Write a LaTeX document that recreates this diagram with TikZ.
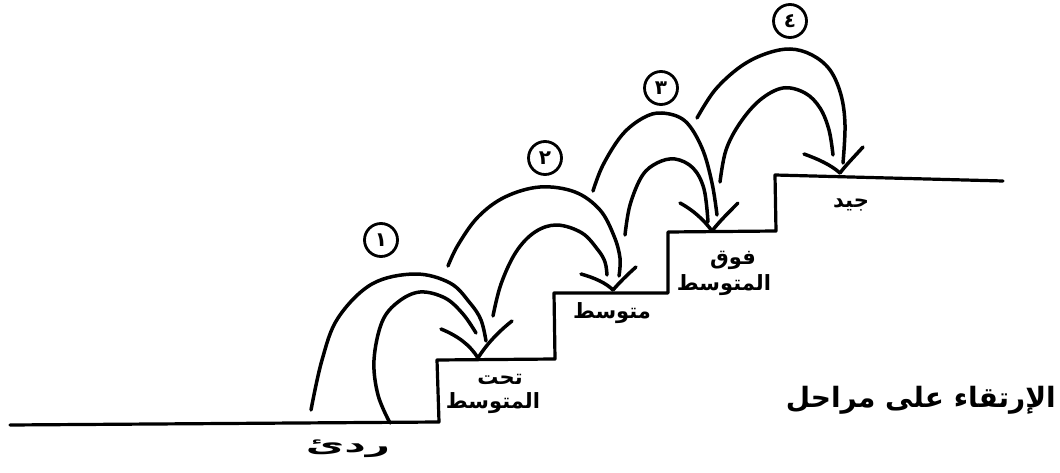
\documentclass[tikz,border=0pt]{standalone}
\usepackage{fontspec}
\newfontfamily\arabicfont[Script=Arabic]{DejaVu Sans}
\TeXXeTstate=1
\begin{document}
\begin{tikzpicture}[x=1pt,y=-1pt,line cap=round,line join=round,
  stair/.style={line width=3.2pt},
  jump/.style={line width=3.5pt},
  tipline/.style={line width=3.5pt},
  num/.style={circle,draw,line width=2.8pt,minimum size=33pt,inner sep=0pt,font=\arabicfont\bfseries\fontsize{20}{20}\selectfont},
  lbl/.style={font=\arabicfont\bfseries\fontsize{21}{24}\selectfont,inner sep=0pt},
  title/.style={font=\arabicfont\bfseries\fontsize{28}{30}\selectfont,inner sep=0pt}]
\useasboundingbox (0,0) rectangle (1060,473);

% stairs
\draw[stair] (10,425) -- (439,422) -- (437,360) -- (555,359) -- (554,293) -- (668,293)
  -- (668,232) -- (776,231) -- (775,175) -- (1003,181);

% landing points
\coordinate (a1) at (478,358);
\coordinate (a2) at (613,290);
\coordinate (a3) at (712,231);
\coordinate (a4) at (840,173);

% jump 1
\draw[jump] plot[smooth,tension=0.6] coordinates {(311,410) (322,360) (338,318) (372,284) (415,274) (450,283) (470,303) (481,320) (486,341)};
\draw[jump] plot[smooth,tension=0.6] coordinates {(390,423) (378,395) (374,360) (382,322) (398,302) (420,292) (445,298) (463,314) (476,333)};
\draw[tipline] (441,329) .. controls (458,336) and (470,345) .. (a1);
\draw[tipline] (512,321) .. controls (498,332) and (486,345) .. (a1);

% jump 2
\draw[jump] plot[smooth,tension=0.6] coordinates {(448,266) (458,245) (478,217) (505,197) (540,187) (575,192) (600,210) (614,236) (620,258) (619,276)};
\draw[jump] plot[smooth,tension=0.6] coordinates {(493,316) (501,284) (516,252) (535,232) (557,225) (582,233) (598,250) (605,262) (607,275)};
\draw[tipline] (581,274) .. controls (595,278) and (606,283) .. (a2);
\draw[tipline] (636,267) .. controls (627,275) and (619,283) .. (a2);

% jump 3
\draw[jump] plot[smooth,tension=0.6] coordinates {(593,191) (603,165) (622,135) (643,118) (662,113) (685,121) (702,148) (712,183) (717,215)};
\draw[jump] plot[smooth,tension=0.6] coordinates {(625,235) (630,205) (642,176) (657,163) (675,159) (693,168) (704,189) (708,222)};
\draw[tipline] (680,203) .. controls (693,210) and (704,220) .. (a3);
\draw[tipline] (738,203) .. controls (728,213) and (719,222) .. (a3);

% jump 4
\draw[jump] plot[smooth,tension=0.6] coordinates {(697,118) (715,90) (740,67) (765,54) (790,49) (812,55) (830,70) (841,95) (845,125) (843,163)};
\draw[jump] plot[smooth,tension=0.6] coordinates {(720,182) (726,150) (740,123) (760,100) (783,88) (805,93) (820,108) (829,130) (833,155)};
\draw[tipline] (804,154) .. controls (818,159) and (831,165) .. (a4);
\draw[tipline] (863,147) .. controls (854,157) and (846,165) .. (a4);

% circled numbers
\node[num] (n1) at (381,240) {\beginR ١\endR};
\node[num] (n2) at (545,158) {\beginR ٢\endR};
\node[num] (n3) at (661,88) {\beginR ٣\endR};
\node[num] (n4) at (790,21) {\beginR ٤\endR};

% labels
\node[lbl,xscale=2] (l0) at (348,449) {\beginR ردئ\endR};
\node[lbl] (l1a) at (500,379) {\beginR تحت\endR};
\node[lbl] (l1b) at (493,403) {\beginR المتوسط\endR};
\node[lbl] (l2) at (612,313) {\beginR متوسط\endR};
\node[lbl] (l3a) at (733,260) {\beginR فوق\endR};
\node[lbl] (l3b) at (724,285) {\beginR المتوسط\endR};
\node[lbl] (l4) at (851,205) {\beginR جيد\endR};
\node[title,anchor=east] (t) at (1056,400) {\beginR الإرتقاء على مراحل\endR};
\end{tikzpicture}
\end{document}
